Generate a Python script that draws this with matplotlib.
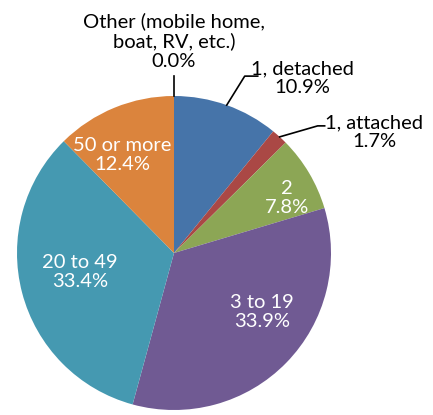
import numpy as np
import matplotlib.pyplot as plt

plt.rcParams['font.family'] = ['Lato', 'DejaVu Sans']

# data
labels = ['Other (mobile home,\nboat, RV, etc.)', '1, detached', '1, attached', '2',
          '3 to 19', '20 to 49', '50 or more']
values = [0.0, 10.9, 1.7, 7.8, 33.9, 33.4, 12.4]
colors = ['#4674A9', '#4674A9', '#AA4845', '#8CA655', '#705A93', '#4599B1', '#DB843D']

W, H = 433, 415
fig = plt.figure(figsize=(W / 100, H / 100), dpi=100)
ax = fig.add_axes([0, 0, 1, 1])

cx, cy, r = 174, H - 253, 157
wedges, _ = ax.pie(values, colors=colors, startangle=90, counterclock=False,
                   center=(cx, cy), radius=r, wedgeprops=dict(linewidth=0))
ax.set_xlim(0, W)
ax.set_ylim(0, H)
ax.set_aspect('equal')
ax.axis('off')

fs = 14.5
ls = 1.15
# labels inside the pie (white)
inside = {3: (287, 198), 4: (262, 312), 5: (80, 272), 6: (122, 155)}
for i, (x, y) in inside.items():
    ax.text(x, H - y, f'{labels[i]}\n{values[i]:.1f}%', color='white', fontsize=fs,
            ha='center', va='center', linespacing=ls)

# labels outside with leader lines
outside = {0: ((174, 41), [(0, 20)]),
           1: ((302, 78), [(18, 29), (31, 29)]),
           2: ((374, 132), [(38, 11), (45, 11)])}
for i, ((tx, ty), elbows) in outside.items():
    ax.text(tx, H - ty, f'{labels[i]}\n{values[i]:.1f}%', color='black', fontsize=fs,
            ha='center', va='center', linespacing=ls)
    a = np.radians(90 - 3.6 * (sum(values[:i]) + values[i] / 2))
    x0, y0 = cx + r * np.cos(a), cy + r * np.sin(a)
    xs = [x0] + [x0 + dx for dx, dy in elbows]
    ys = [y0] + [y0 + dy for dx, dy in elbows]
    ax.plot(xs, ys, color='black', lw=1.2)

fig.savefig('out.png', dpi=100)
